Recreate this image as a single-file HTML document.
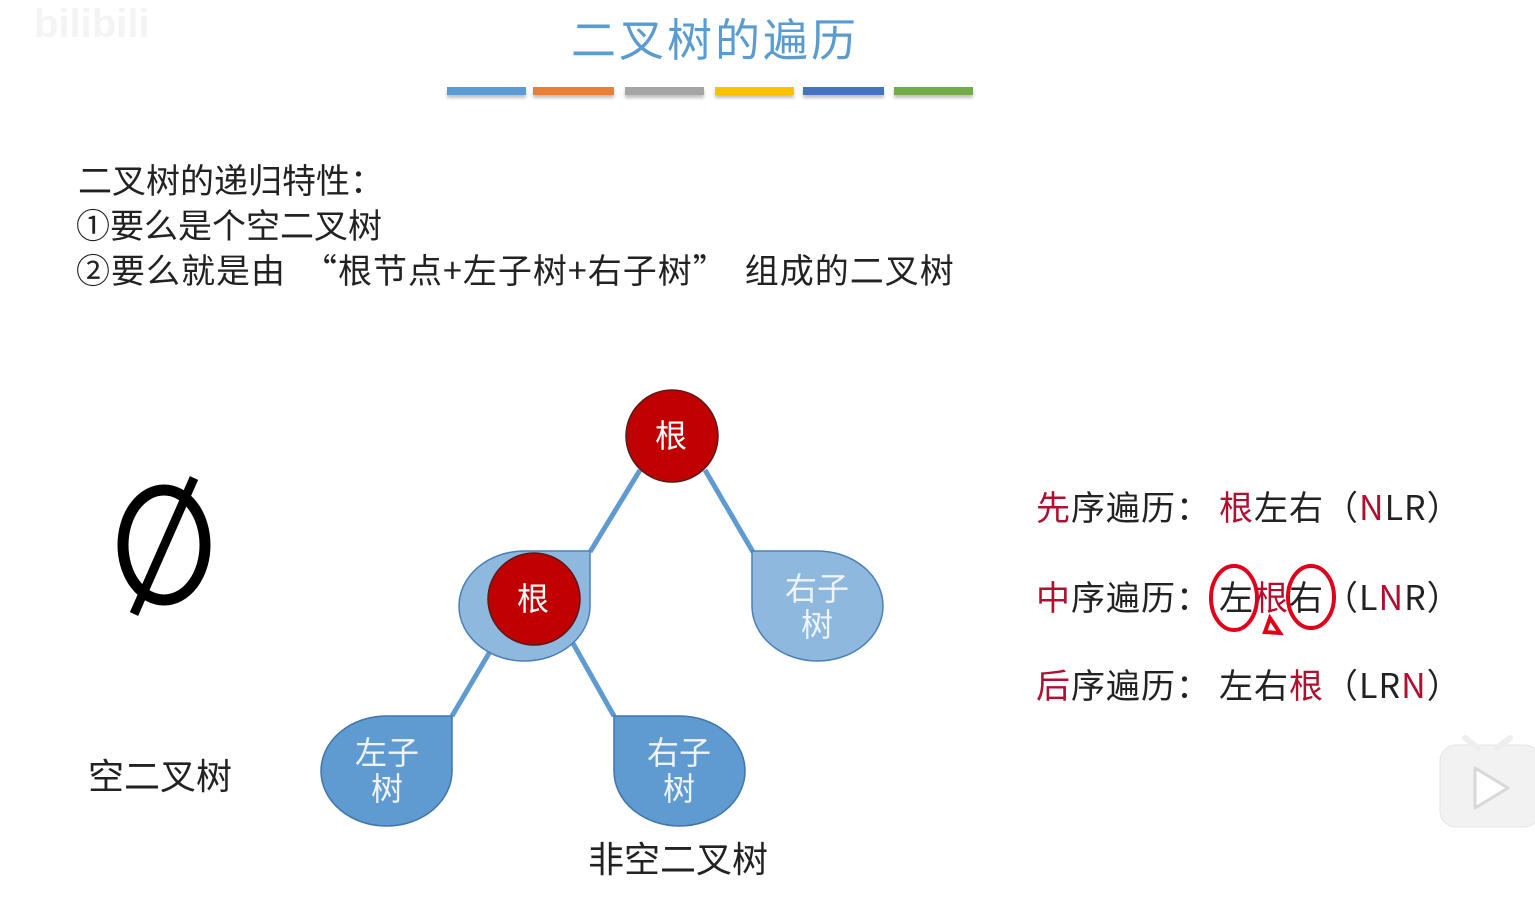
<!DOCTYPE html>
<html><head><meta charset="utf-8"><style>
html,body{margin:0;padding:0;background:#fff;width:1535px;height:903px;overflow:hidden;position:relative;font-family:"Noto Sans CJK SC","Liberation Sans",sans-serif}
.t{position:absolute;white-space:nowrap;line-height:1}
.bar{position:absolute;top:87px;height:8px;box-shadow:0 3px 3px rgba(0,0,0,.25)}
.r{color:#b01030}
.k{color:#222}
.g{display:inline-block;width:8px}
</style></head><body>
<div class="t" style="left:0;top:4px;font-size:40px;font-weight:bold;color:#f4f4f4;left:34px;font-family:'Liberation Sans',sans-serif">bilibili</div>
<div class="t" style="left:571px;top:14px;font-size:45px;color:#5a9bd0;letter-spacing:3px">二叉树的遍历</div>
<div class="bar" style="left:447px;width:79px;background:#5b9bd5"></div>
<div class="bar" style="left:533px;width:81px;background:#ed7d31"></div>
<div class="bar" style="left:625px;width:79px;background:#a5a5a5"></div>
<div class="bar" style="left:715px;width:79px;background:#ffc000"></div>
<div class="bar" style="left:803px;width:81px;background:#4472c4"></div>
<div class="bar" style="left:894px;width:79px;background:#70ad47"></div>

<div class="t" style="left:78px;top:162px;font-size:34px;color:#222;letter-spacing:0px">二叉树的递归特性：</div>
<div class="t" style="left:76px;top:207px;font-size:34px;color:#222">①要么是个空二叉树</div>
<div class="t" style="left:76px;top:252px;font-size:34px;color:#222;letter-spacing:1px">②要么就是由<span style="letter-spacing:0">　</span>“根节点+左子树+右子树”<span style="letter-spacing:0">　</span>组成的二叉树</div>

<svg width="1535" height="903" style="position:absolute;left:0;top:0">
 <ellipse cx="164" cy="545" rx="41" ry="55" fill="none" stroke="#000" stroke-width="11"/>
 <line x1="194" y1="478" x2="134" y2="614" stroke="#000" stroke-width="9"/>
 <g stroke="#5f9bd0" stroke-width="5" fill="none">
  <line x1="640" y1="470" x2="590" y2="552"/>
  <line x1="705" y1="470" x2="753" y2="552"/>
  <line x1="498" y1="638" x2="452" y2="716"/>
  <line x1="570" y1="638" x2="614" y2="716"/>
 </g>
 <path d="M590,551 L590,605 A65.5,55 0 1 1 524.5,551 Z" fill="#8fb8de" stroke="#4a80b8" stroke-width="1.5"/>
 <path d="M752,551 L817.5,551 A65.5,55 0 1 1 752,606 Z" fill="#8fb8de" stroke="#4a80b8" stroke-width="1.5"/>
 <path d="M452,716 L452,770 A65.5,55 0 1 1 386.5,716 Z" fill="#5f9bd0" stroke="#3f75ad" stroke-width="1.5"/>
 <path d="M614,716 L679.5,716 A65.5,55 0 1 1 614,771 Z" fill="#5f9bd0" stroke="#3f75ad" stroke-width="1.5"/>
 <circle cx="672" cy="436" r="46" fill="#c00000" stroke="#5a1a1a" stroke-width="1.5"/>
 <circle cx="534" cy="599" r="46" fill="#c00000" stroke="#5a1a1a" stroke-width="1.5"/>
 <g font-family="Noto Sans CJK SC,sans-serif" font-size="32" fill="#fff" text-anchor="middle">
  <text x="671" y="447">根</text>
  <text x="533" y="610">根</text>
  <text x="817" y="600" fill="#eef4fa">右子</text><text x="817" y="636" fill="#eef4fa">树</text>
  <text x="387" y="764" fill="#eef4fa">左子</text><text x="387" y="800" fill="#eef4fa">树</text>
  <text x="679" y="764" fill="#eef4fa">右子</text><text x="679" y="800" fill="#eef4fa">树</text>
 </g>
 <g stroke="#e0001a" stroke-width="4" fill="none">
  <ellipse cx="1234" cy="598" rx="23" ry="32"/>
  <ellipse cx="1311" cy="597" rx="23" ry="31"/>
  <path d="M1265,632 L1270,618 L1280,633 Z"/>
 </g>
 <rect x="1440" y="745" width="100" height="82" rx="16" fill="#f2f2f2" stroke="#e4e4e4"/>
 <path d="M1475,768 L1508,788 L1475,808 Z" fill="#fff" stroke="#d8d8d8" stroke-width="3" stroke-linejoin="round"/>
 <line x1="1465" y1="738" x2="1478" y2="748" stroke="#eee" stroke-width="6" stroke-linecap="round"/>
 <line x1="1510" y1="738" x2="1497" y2="748" stroke="#eee" stroke-width="6" stroke-linecap="round"/>
</svg>

<div class="t" style="left:88px;top:756px;font-size:36px;color:#222">空二叉树</div>
<div class="t" style="left:588px;top:839px;font-size:36px;color:#222">非空二叉树</div>

<div class="t k" style="left:1036px;top:489px;font-size:34px;letter-spacing:1px"><span class="r">先</span>序遍历：<span class="g"></span><span class="r">根</span>左右（<span class="r">N</span>LR）</div>
<div class="t k" style="left:1036px;top:579px;font-size:34px;letter-spacing:1px"><span class="r">中</span>序遍历：<span class="g"></span>左<span class="r">根</span>右（L<span class="r">N</span>R）</div>
<div class="t k" style="left:1036px;top:667px;font-size:34px;letter-spacing:1px"><span class="r">后</span>序遍历：<span class="g"></span>左右<span class="r">根</span>（LR<span class="r">N</span>）</div>
</body></html>
